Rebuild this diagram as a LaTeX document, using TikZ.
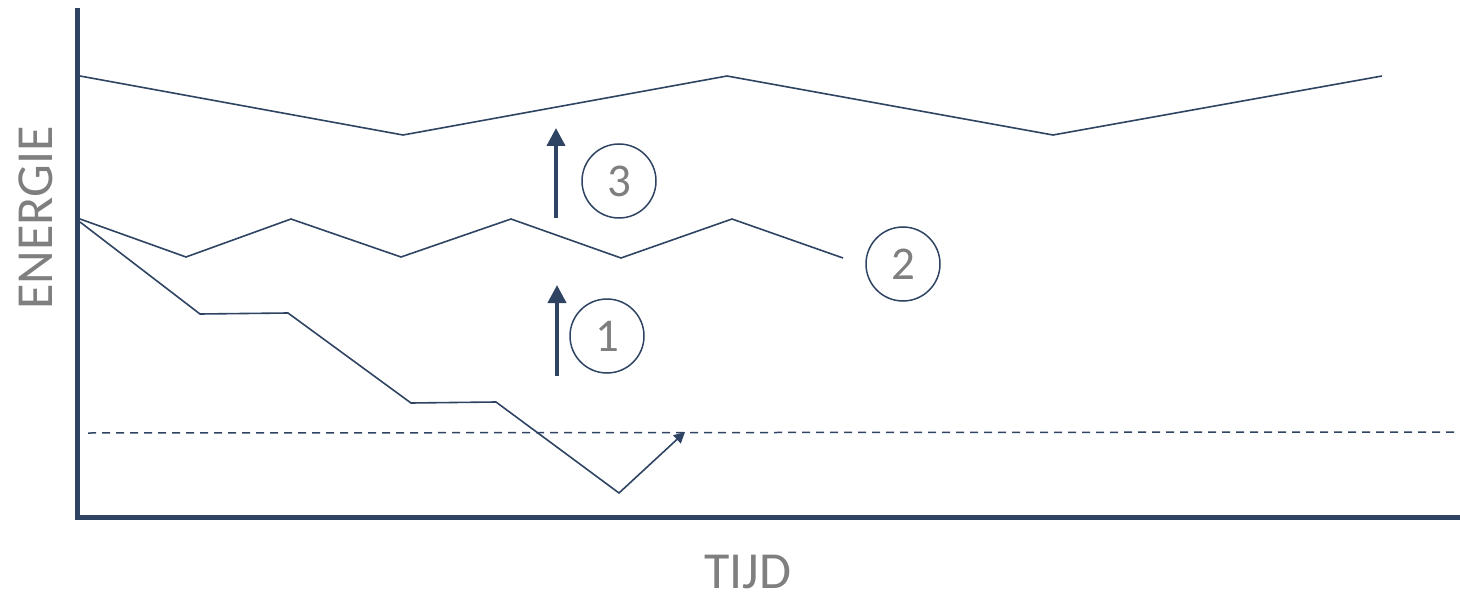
\documentclass[tikz,border=0pt]{standalone}
\usepackage{fontspec}
\setmainfont{Carlito}
\usetikzlibrary{arrows.meta}
\definecolor{navy}{HTML}{2F4462}
\definecolor{txtgray}{HTML}{7F7F7F}
\begin{document}
\begin{tikzpicture}[x=1pt,y=-1pt,
  axisline/.style={draw=navy,line width=5pt},
  curve/.style={draw=navy,line width=1.6pt,line join=miter},
  bigarrow/.style={draw=navy,line width=4pt,-{Triangle[width=18pt,length=18pt]}},
  numcirc/.style={circle,draw=navy,line width=1.5pt,minimum size=74pt,inner sep=0pt,text=txtgray,font=\fontsize{47}{50}\selectfont},
  axlabel/.style={text=txtgray,font=\fontsize{52}{56}\selectfont,inner sep=0pt,anchor=base}]
\useasboundingbox (0,0) rectangle (1460,599);
% axes
\coordinate (o) at (77,517);
\coordinate (ytop) at (77,8);
\coordinate (xend) at (1460,517);
\draw[axisline] (ytop) -- (o) -- (xend);
% top line
\coordinate (t0) at (80,76);
\coordinate (t1) at (403,135);
\coordinate (t2) at (727,76);
\coordinate (t3) at (1053,135);
\coordinate (t4) at (1382,76);
\draw[curve] (t0) -- (t1) -- (t2) -- (t3) -- (t4);
% middle line
\coordinate (m0) at (80,219);
\coordinate (m1) at (186,257);
\coordinate (m2) at (291,219);
\coordinate (m3) at (401,257);
\coordinate (m4) at (511,219);
\coordinate (m5) at (621,258);
\coordinate (m6) at (732,219);
\coordinate (m7) at (843,258);
\draw[curve] (m0) -- (m1) -- (m2) -- (m3) -- (m4) -- (m5) -- (m6) -- (m7);
% lower line
\coordinate (l0) at (80,222);
\coordinate (l1) at (200,314);
\coordinate (l2) at (288,313);
\coordinate (l3) at (411,403);
\coordinate (l4) at (496,402);
\coordinate (l5) at (619,493);
\coordinate (l6) at (685,432);
\draw[curve,-{Triangle[width=11pt,length=11pt]}] (l0) -- (l1) -- (l2) -- (l3) -- (l4) -- (l5) -- (l6);
% dashed threshold
\coordinate (d0) at (88,433);
\coordinate (d1) at (1460,432);
\draw[draw=navy,line width=1.5pt,dash pattern=on 8pt off 6pt] (d0) -- (d1);
% arrows
\coordinate (a3s) at (556,218);
\coordinate (a3e) at (556,128);
\coordinate (a1s) at (557,376);
\coordinate (a1e) at (557,285);
\draw[bigarrow] (a3s) -- (a3e);
\draw[bigarrow] (a1s) -- (a1e);
% numbered circles
\node[numcirc] (c3) at (619,181) {3};
\node[numcirc] (c1) at (607,336) {1};
\node[numcirc] (c2) at (903,264) {2};
% axis labels
\node[axlabel,rotate=90] (ylab) at (52,218) {ENERGIE};
\node[axlabel] (xlab) at (748,588) {TIJD};
\end{tikzpicture}
\end{document}
